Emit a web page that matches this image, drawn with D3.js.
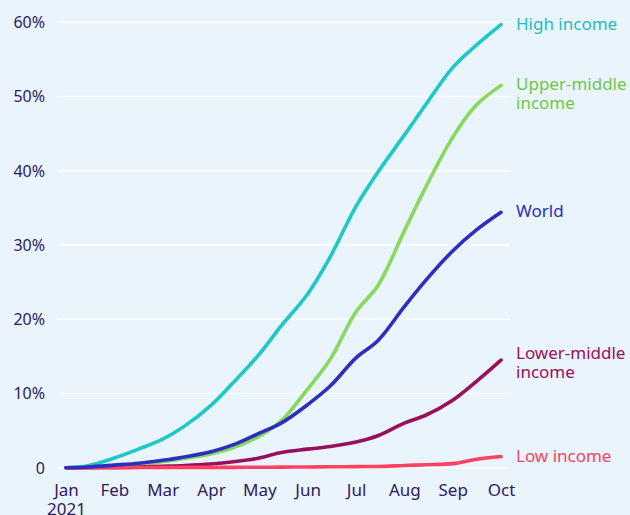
<!DOCTYPE html>
<html>
<head>
<meta charset="utf-8">
<script src="https://cdn.jsdelivr.net/npm/d3@7/dist/d3.min.js"></script>
<style>
  html, body { margin: 0; padding: 0; background: #EAF4FD; }
  svg { display: block; }
  text { font-family: "Noto Sans", "Open Sans", sans-serif; }
</style>
</head>
<body>
<svg id="chart" width="630" height="515"></svg>
<script>
// ---- Data (share of population fully vaccinated, %) ----
const dates = ["2021-01-01","2021-01-15","2021-02-01","2021-02-15","2021-03-01","2021-03-15",
  "2021-04-01","2021-04-15","2021-05-01","2021-05-15","2021-06-01","2021-06-15",
  "2021-07-01","2021-07-15","2021-08-01","2021-08-15","2021-09-01","2021-09-15","2021-10-01"];

const highIncome        = [0, 0.25, 1.3, 2.5, 3.85, 5.6, 8.4, 11.5, 15.3, 19.1, 23.4, 28.4, 35.2, 39.8, 44.8, 49.0, 53.9, 56.8, 59.7];
const upperMiddleIncome = [0, 0.05, 0.2, 0.4, 0.8, 1.25, 1.85, 2.7, 4.25, 6.3, 10.6, 14.6, 21.0, 24.5, 31.9, 37.9, 44.5, 48.7, 51.5];
const world             = [0, 0.1, 0.35, 0.6, 1.0, 1.45, 2.15, 3.1, 4.65, 6.0, 8.5, 11.0, 14.8, 17.1, 21.7, 25.3, 29.2, 31.9, 34.4];
const lowerMiddleIncome = [0, 0, 0.05, 0.1, 0.2, 0.3, 0.5, 0.8, 1.3, 2.05, 2.5, 2.85, 3.45, 4.3, 6.0, 7.1, 9.1, 11.5, 14.5];
const lowIncome         = [0, 0, 0, 0.02, 0.03, 0.04, 0.05, 0.05, 0.06, 0.08, 0.1, 0.12, 0.15, 0.17, 0.3, 0.4, 0.55, 1.1, 1.5];

const monthTicks = ["2021-01-01","2021-02-01","2021-03-01","2021-04-01","2021-05-01","2021-06-01",
  "2021-07-01","2021-08-01","2021-09-01","2021-10-01"];
const monthLabels = ["Jan","Feb","Mar","Apr","May","Jun","Jul","Aug","Sep","Oct"];
const yTicks = [0, 10, 20, 30, 40, 50, 60];

const seriesNames  = ["High income", "Upper-middle income", "Lower-middle income", "Low income", "World"];
const seriesValues = [highIncome, upperMiddleIncome, lowerMiddleIncome, lowIncome, world];
const seriesLabelLines = [["High income"], ["Upper-middle", "income"], ["Lower-middle", "income"], ["Low income"], ["World"]];
const seriesColors = ["#1CC8C8", "#86D95C", "#990F5B", "#FF4261", "#2B2EBF"];
const labelColors  = ["#1BC0C0", "#6FC64B", "#990F5B", "#FF4261", "#2B2EBF"];

// ---- Layout ----
const svg = d3.select("#chart");
const W = 630, H = 515;
const xLeft = 66, xRight = 501;
const yTop = 22.3, yBottom = 467.7;
const gridX1 = 57, gridX2 = 510;
const textColor = "#2E1A5C";

svg.append("rect").attr("width", W).attr("height", H).attr("fill", "#EAF4FD");

const parse = d3.timeParse("%Y-%m-%d");
const tickDates = monthTicks.map(parse);
const step = (xRight - xLeft) / (tickDates.length - 1);
const x = d3.scaleTime()
  .domain(tickDates)
  .range(tickDates.map((d, i) => xLeft + i * step));
const y = d3.scaleLinear().domain([0, 60]).range([yBottom, yTop]);

// y labels
const yAxis = d3.axisLeft(y).tickValues(yTicks).tickSize(0).tickPadding(0)
  .tickFormat(d => d === 0 ? "0" : d + "%");
const gy = svg.append("g").attr("transform", `translate(${45},0)`).call(yAxis);
gy.select(".domain").remove();
gy.selectAll("text").attr("fill", textColor).style("font-size", "16px")
  .attr("font-family", "'Noto Sans', sans-serif").attr("dy", "0.34em");

// gridlines
svg.append("g").selectAll("line").data(yTicks).join("line")
  .attr("x1", gridX1).attr("x2", gridX2)
  .attr("y1", d => y(d)).attr("y2", d => y(d))
  .attr("stroke", "#FFFFFF").attr("stroke-width", 1.6);

// x labels
const xAxis = d3.axisBottom(x).tickValues(tickDates).tickSize(0).tickPadding(0)
  .tickFormat((d, i) => monthLabels[i]);
const gx = svg.append("g").attr("transform", `translate(0,${480})`).call(xAxis);
gx.select(".domain").remove();
gx.selectAll("text").attr("fill", textColor).style("font-size", "17px")
  .attr("font-family", "'Noto Sans', sans-serif").attr("dy", "0").attr("y", 16);
gx.select(".tick text").append("tspan").attr("x", 0).attr("dy", 18.5).text("2021");

// lines
const parsedDates = dates.map(parse);
const line = d3.line()
  .x((d, i) => x(parsedDates[i]))
  .y(d => y(d))
  .curve(d3.curveCatmullRom.alpha(0.5));

svg.append("g").selectAll("path").data(seriesValues).join("path")
  .attr("d", d => line(d))
  .attr("fill", "none")
  .attr("stroke", (d, i) => seriesColors[i])
  .attr("stroke-width", 3.6)
  .attr("stroke-linecap", "round")
  .attr("stroke-linejoin", "round");

// end labels
const labelShift = { "Lower-middle income": -7 };
const lg = svg.append("g");
seriesValues.forEach((vals, i) => {
  const name = seriesNames[i];
  const cy = y(vals[vals.length - 1]) + (labelShift[name] !== undefined ? labelShift[name] : -1);
  const t = lg.append("text")
    .attr("x", 516).attr("y", cy + 6)
    .attr("fill", labelColors[i])
    .style("font-size", "17px");
  seriesLabelLines[i].forEach((ln, j) => {
    t.append("tspan").attr("x", 516).attr("dy", j === 0 ? 0 : 19).text(ln);
  });
});
</script>
</body>
</html>
